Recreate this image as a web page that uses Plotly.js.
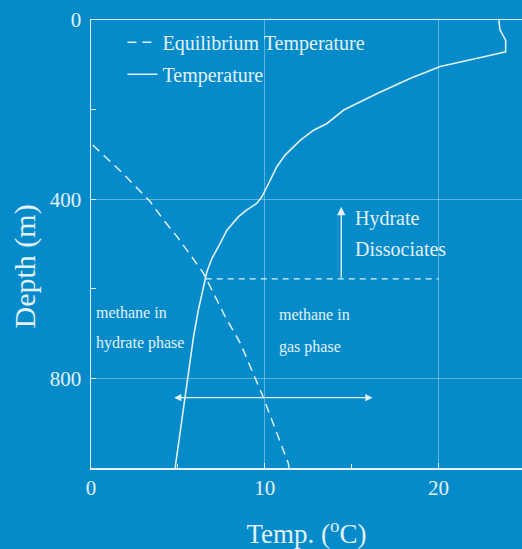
<!DOCTYPE html>
<html>
<head>
<meta charset="utf-8">
<script src="https://cdn.plot.ly/plotly-3.0.1.min.js"></script>
<style>html,body{margin:0;padding:0;background:#068bca;}</style>
</head>
<body>
<div id="chart" style="width:522px;height:549px;"></div>
<script>
// Measured temperature profile
const tempT = [23.47, 23.53, 23.86, 23.86, 22.61, 21.27, 20.1, 18.39, 16.47, 14.54, 13.58, 12.81, 12.05, 11.18, 10.7, 10.22, 9.84, 9.55, 8.97, 8.49, 7.82, 7.44, 6.96, 6.67, 6.47, 6.18, 5.9, 5.4, 4.85, 4.84];
const tempD = [0, 22, 45, 71, 82, 93, 104, 130, 164, 201, 231, 246, 268, 301, 327, 365, 394, 409, 424, 439, 469, 498, 532, 562, 595, 647, 707, 841, 989, 1000];
// Hydrate equilibrium temperature
const eqT = [0.1, 0.9, 1.8, 2.65, 3.4, 4.17, 4.94, 5.71, 6.47, 7.05, 7.72, 8.59, 9.9, 11.35, 11.4];
const eqD = [279, 308, 341, 375, 405, 446, 483, 524, 565, 610, 662, 721, 841, 989, 1000];
// Base of hydrate stability zone
const baseT = [6.6, 20];
const baseD = [578, 578];
// Arrows
const upArrowT = 14.4, upArrowFrom = 578, upArrowTo = 417;
const hArrowD = 843, hArrowLeft = 4.7, hArrowRight = 16.2;
// Labels
const labelTexts = ['Hydrate', 'Dissociates', 'methane in', 'hydrate phase', 'methane in', 'gas phase'];
const labelT = [15.1, 15.1, 0.2, 0.2, 10.7, 10.7];
const labelD = [442, 512, 654, 721, 657, 730];
const labelSizes = [20, 20, 16, 16, 16, 16];

const fg = '#e2f1fa';
const serif = 'Liberation Serif, Times New Roman, serif';

const traces = [
  {x: eqT, y: eqD, mode: 'lines', name: 'Equilibrium Temperature', legendgroup: 'a',
   line: {color: fg, width: 1.5, dash: '9px,6px'}},
  {x: tempT, y: tempD, mode: 'lines', name: 'Temperature', legendgroup: 'b',
   line: {color: fg, width: 1.6}},
  {x: baseT, y: baseD, mode: 'lines', showlegend: false,
   line: {color: fg, width: 1.3, dash: '6px,5px'}}
];

const annotations = [
  {x: upArrowT, y: upArrowTo, ax: upArrowT, ay: upArrowFrom, axref: 'x', ayref: 'y', xref: 'x', yref: 'y',
   showarrow: true, arrowhead: 2, arrowsize: 1.2, arrowwidth: 1.4, arrowcolor: fg, text: ''},
  {x: hArrowRight, y: hArrowD, ax: hArrowLeft, ay: hArrowD, axref: 'x', ayref: 'y', xref: 'x', yref: 'y',
   showarrow: true, arrowhead: 2, startarrowhead: 2, arrowside: 'end+start', arrowsize: 1.2, startarrowsize: 1.2,
   arrowwidth: 1.2, arrowcolor: fg, text: ''},
  {x: -0.153, y: 0.45, xref: 'paper', yref: 'paper', xanchor: 'center', yanchor: 'middle',
   showarrow: false, textangle: -90, text: 'Depth (m)', font: {family: serif, size: 30, color: fg}}
];
labelTexts.forEach((t, i) => annotations.push({
  x: labelT[i], y: labelD[i], xref: 'x', yref: 'y', xanchor: 'left', yanchor: 'middle',
  showarrow: false, text: t, font: {family: serif, size: labelSizes[i], color: fg}
}));

const layout = {
  width: 522, height: 549,
  paper_bgcolor: '#068bca', plot_bgcolor: '#068bca',
  margin: {l: 91, r: 0, t: 20, b: 81},
  font: {family: serif, color: fg, size: 20},
  showlegend: true,
  legend: {x: 0.073, y: 0.994, xanchor: 'left', yanchor: 'top', bgcolor: 'rgba(0,0,0,0)',
           font: {family: serif, size: 20, color: fg}, tracegroupgap: 3},
  xaxis: {range: [0, 24.8], showgrid: true, gridcolor: 'rgba(255,255,255,0.35)', gridwidth: 1,
          tickvals: [0, 10, 20], ticks: 'inside', ticklen: 5, tickcolor: fg,
          showline: true, linecolor: fg, linewidth: 1.5, mirror: true, zeroline: false,
          minor: {tickvals: [5, 15], ticks: 'inside', ticklen: 4, tickcolor: fg, showgrid: false},
          tickfont: {family: serif, size: 21, color: fg},
          title: {text: 'Temp. (<sup>o</sup>C)', font: {family: serif, size: 27, color: fg}, standoff: 30}},
  yaxis: {range: [1000, 0], showgrid: true, gridcolor: 'rgba(255,255,255,0.35)', gridwidth: 1,
          tickvals: [0, 400, 800], ticks: 'inside', ticklen: 5, tickcolor: fg,
          showline: true, linecolor: fg, linewidth: 1.5, zeroline: false,
          minor: {tickvals: [200, 600], ticks: 'inside', ticklen: 5, tickcolor: fg, showgrid: false},
          tickfont: {family: serif, size: 21, color: fg}, ticklabelstandoff: 4},
  annotations: annotations
};

Plotly.newPlot('chart', traces, layout, {displayModeBar: false, staticPlot: true});
</script>
</body>
</html>
